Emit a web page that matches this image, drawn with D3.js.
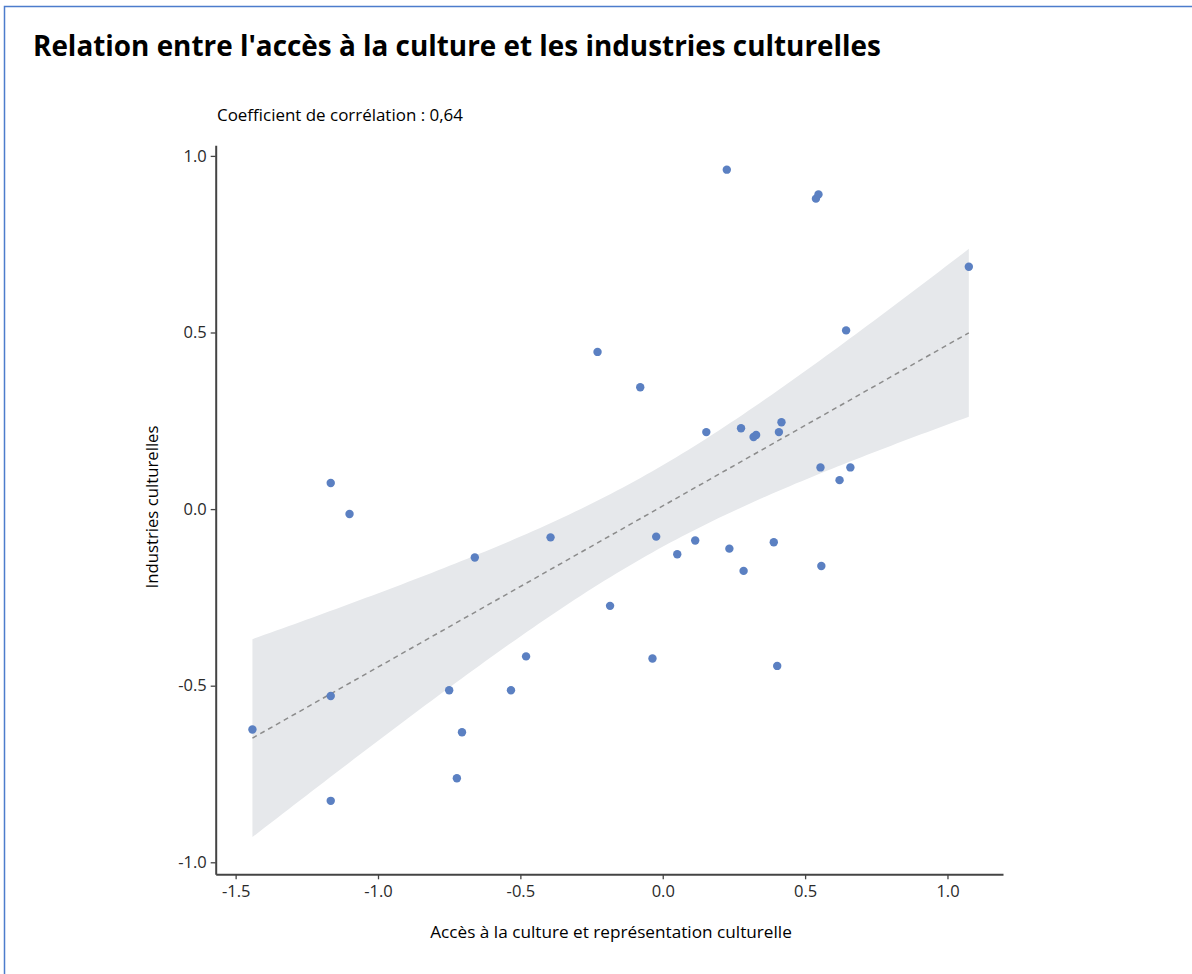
<!DOCTYPE html>
<html>
<head>
<meta charset="utf-8">
<script src="https://cdn.jsdelivr.net/npm/d3@7"></script>
<style>
  body { margin: 0; background: #fff; }
  svg { display: block; }
</style>
</head>
<body>
<svg id="chart" width="1192" height="974"></svg>
<script>
// Scores per territory: access to culture (x) vs cultural industries (y)
const accesCulture = [
  0.225, 0.538, 0.547, 1.075, 0.644, -0.229, -0.079, 0.153, 0.275, 0.319,
  0.328, 0.408, 0.417, 0.554, 0.659, 0.621, -1.166, -1.100, -0.394, -0.023,
  0.051, 0.114, 0.234, 0.390, 0.284, 0.557, -0.660, -0.185, -0.480, -0.036,
  0.402, -0.750, -0.533, -1.166, -1.441, -1.166, -0.705, -0.723
];
const industriesCulturelles = [
  0.961, 0.879, 0.891, 0.686, 0.506, 0.445, 0.345, 0.218, 0.229, 0.204,
  0.210, 0.218, 0.246, 0.118, 0.118, 0.082, 0.074, -0.014, -0.080, -0.078,
  -0.128, -0.089, -0.112, -0.094, -0.175, -0.161, -0.137, -0.274, -0.417, -0.423,
  -0.444, -0.513, -0.513, -0.529, -0.624, -0.826, -0.632, -0.762
];
const xTicks = [-1.5, -1.0, -0.5, 0.0, 0.5, 1.0];
const yTicks = [-1.0, -0.5, 0.0, 0.5, 1.0];

const titre = "Relation entre l'accès à la culture et les industries culturelles";
const sousTitre = "Coefficient de corrélation : 0,64";
const titreX = "Accès à la culture et représentation culturelle";
const titreY = "Industries culturelles";

// Student t quantile (97.5 %, n - 2 = 36 degrees of freedom) for the 95 % band
const tCrit = 2.028;

const svg = d3.select("#chart");
const txtFont = "'Open Sans', 'Noto Sans', sans-serif";
const tickFont = "'Open Sans', 'Noto Sans', sans-serif";

// Scale a text's font size so that it spans the given width
function fitWidth(sel, width) {
  const node = sel.node();
  const fs = parseFloat(sel.attr("font-size"));
  const w = node.getComputedTextLength();
  if (w > 0) sel.attr("font-size", (fs * width / w).toFixed(2));
  return sel;
}

// Frame
svg.append("path")
  .attr("d", "M4.5,974 L4.5,6.5 L1192,6.5")
  .attr("fill", "none")
  .attr("stroke", "#4d7ccc")
  .attr("stroke-width", 1.5);

// Title
svg.append("text")
  .attr("x", 33).attr("y", 56)
  .attr("font-family", txtFont)
  .attr("font-weight", 700)
  .attr("font-size", 26)
  .attr("fill", "#000")
  .text(titre)
  .call(fitWidth, 848);

svg.append("text")
  .attr("x", 217).attr("y", 121)
  .attr("font-family", txtFont)
  .attr("font-size", 15)
  .attr("fill", "#000")
  .text(sousTitre)
  .call(fitWidth, 246);

// Scales
const x = d3.scaleLinear().domain([-1.57, 1.195]).range([215.7, 1003]);
const y = d3.scaleLinear().domain([-1.034, 1.03]).range([874.3, 145.3]);

// Linear fit and 95 % confidence band
const n = accesCulture.length;
const mx = d3.mean(accesCulture), my = d3.mean(industriesCulturelles);
const sxx = d3.sum(accesCulture, v => (v - mx) ** 2);
const sxy = d3.sum(accesCulture.map((v, i) => (v - mx) * (industriesCulturelles[i] - my)));
const pente = sxy / sxx;
const origine = my - pente * mx;
const resid = Math.sqrt(d3.sum(accesCulture.map((v, i) =>
  (industriesCulturelles[i] - origine - pente * v) ** 2)) / (n - 2));
const [xMin, xMax] = d3.extent(accesCulture);
const grille = d3.range(0, 121).map(i => xMin + (xMax - xMin) * i / 120);
const bande = grille.map(v => {
  const fit = origine + pente * v;
  const se = resid * Math.sqrt(1 / n + (v - mx) ** 2 / sxx);
  return { x: v, fit, lo: fit - tCrit * se, hi: fit + tCrit * se };
});

svg.append("path")
  .datum(bande)
  .attr("fill", "#e6e8eb")
  .attr("d", d3.area().x(d => x(d.x)).y0(d => y(d.lo)).y1(d => y(d.hi)));

svg.append("path")
  .datum([bande[0], bande[bande.length - 1]])
  .attr("fill", "none")
  .attr("stroke", "#8c8c8c")
  .attr("stroke-width", 1.5)
  .attr("stroke-dasharray", "5,4")
  .attr("d", d3.line().x(d => x(d.x)).y(d => y(d.fit)));

// Points
svg.append("g")
  .selectAll("circle")
  .data(accesCulture.map((v, i) => [v, industriesCulturelles[i]]))
  .join("circle")
  .attr("cx", d => x(d[0]))
  .attr("cy", d => y(d[1]))
  .attr("r", 4.2)
  .attr("fill", "#5b80c2");

// Axes
const fmt = d => d.toFixed(1);
function styleAxis(g) {
  g.select(".domain").attr("stroke", "#444").attr("stroke-width", 2);
  g.selectAll(".tick line").attr("stroke", "#444").attr("stroke-width", 1.3);
  g.selectAll(".tick text")
    .attr("font-family", tickFont)
    .attr("font-size", 16.5)
    .attr("fill", "#2a2a2a");
}

svg.append("g")
  .attr("transform", `translate(0,${y.range()[0]})`)
  .call(d3.axisBottom(x).tickValues(xTicks).tickFormat(fmt).tickSize(5).tickSizeOuter(0).tickPadding(6))
  .call(styleAxis);

svg.append("g")
  .attr("transform", `translate(${x.range()[0]},0)`)
  .call(d3.axisLeft(y).tickValues(yTicks).tickFormat(fmt).tickSize(5).tickSizeOuter(0).tickPadding(4))
  .call(styleAxis);

// Axis titles
svg.append("text")
  .attr("x", 611).attr("y", 938)
  .attr("text-anchor", "middle")
  .attr("font-family", txtFont)
  .attr("font-size", 15)
  .attr("fill", "#000")
  .text(titreX)
  .call(fitWidth, 362);

svg.append("text")
  .attr("transform", "translate(158,507) rotate(-90)")
  .attr("text-anchor", "middle")
  .attr("font-family", txtFont)
  .attr("font-size", 15)
  .attr("fill", "#000")
  .text(titreY)
  .call(fitWidth, 163);
</script>
</body>
</html>
